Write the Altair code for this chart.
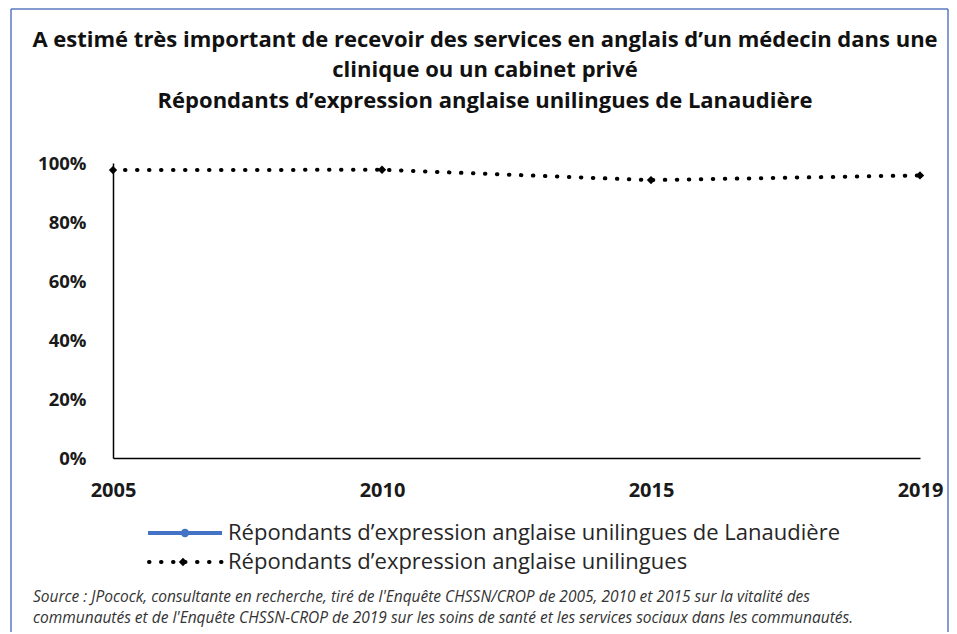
import altair as alt
import pandas as pd

years = ["2005", "2010", "2015", "2019"]
series_lan = "Répondants d’expression anglaise unilingues de Lanaudière"
series_all = "Répondants d’expression anglaise unilingues"
values_all = [0.976, 0.977, 0.942, 0.958]

title_lines = [
    "A estimé très important de recevoir des services en anglais  d’un médecin dans une",
    "clinique  ou un cabinet privé",
    "Répondants  d’expression anglaise  unilingues  de Lanaudière",
]
source_lines = [
    "Source : JPocock, consultante en recherche, tiré de l'Enquête CHSSN/CROP de 2005, 2010 et 2015 sur la vitalité des",
    "communautés et de l'Enquête CHSSN-CROP de 2019 sur les soins de santé et les services sociaux dans les communautés.",
]
y_ticks = [0, 0.2, 0.4, 0.6, 0.8, 1.0]

df = pd.DataFrame({
    "year": years,
    "value": values_all,
    "series": [series_all] * len(years),
})

W, H = 807, 295
FONT = "Open Sans"
BLUE = "#4472C4"

x_enc = alt.X("year:O", scale=alt.Scale(type="point", padding=0),
              axis=alt.Axis(title=None, labelAngle=0, labelFont=FONT, labelFontSize=20,
                            labelFontWeight="bold", labelColor="#1a1a1a", labelPadding=22,
                            ticks=False, domainColor="black", domainWidth=1.5, grid=False))
y_enc = alt.Y("value:Q", scale=alt.Scale(domain=[0, 1], nice=False),
              axis=alt.Axis(title=None, values=y_ticks, format=".0%", labelFont=FONT,
                            labelFontSize=18.5, labelFontWeight="bold", labelColor="#1a1a1a",
                            labelPadding=27, ticks=False, domainColor="black",
                            domainWidth=1.5, grid=False))

line = alt.Chart(df).mark_line(strokeWidth=4, strokeCap="round", color="black",
                               strokeDash=[0.5, 11.5]).encode(x=x_enc, y=y_enc)
pts = alt.Chart(df).mark_point(shape="diamond", filled=True, size=70, opacity=1,
                               color="black").encode(x="year:O", y="value:Q")


def text_layer(txt, x, y, **kw):
    return alt.Chart(pd.DataFrame({"t": [txt]})).mark_text(**kw).encode(
        text="t:N", x=alt.value(x), y=alt.value(y))


titles = [text_layer(t, 372, yy, align="center", baseline="middle", font=FONT,
                     fontSize=22, fontWeight="bold", color="#111")
          for t, yy in zip(title_lines, [-123, -93, -62])]

sources = [text_layer(t, -80, yy, align="left", baseline="middle", font=FONT,
                      fontSize=15.5, fontStyle="italic", color="#333")
           for t, yy in zip(source_lines, [434, 455])]

# legend
leg_names = [series_lan, series_all]
leg_y = [370, 399]
leg_labels = [text_layer(n, 115, yy, align="left", baseline="middle", font=FONT,
                         fontSize=22, color="#262626") for n, yy in zip(leg_names, leg_y)]
legdf = pd.DataFrame({"a": [0]})
leg_line1 = alt.Chart(legdf).mark_rule(color=BLUE, strokeWidth=4).encode(
    x=alt.value(35), x2=alt.value(109), y=alt.value(leg_y[0]))
leg_pt1 = alt.Chart(legdf).mark_point(shape="circle", filled=True, size=70, opacity=1,
                                      color=BLUE).encode(x=alt.value(72), y=alt.value(leg_y[0]))
leg_line2 = alt.Chart(legdf).mark_rule(color="black", strokeWidth=4, strokeCap="round",
                                       strokeDash=[0.5, 11.5]).encode(
    x=alt.value(36), x2=alt.value(109), y=alt.value(leg_y[1]))
leg_pt2 = alt.Chart(legdf).mark_point(shape="diamond", filled=True, size=70, opacity=1,
                                      color="black").encode(x=alt.value(70), y=alt.value(leg_y[1]))

frame_col = "#5a7ac0"
left = alt.Chart(legdf).mark_rule(color=frame_col, strokeWidth=1.5).encode(
    x=alt.value(-102), y=alt.value(-154), y2=alt.value(490))
top = alt.Chart(legdf).mark_rule(color=frame_col, strokeWidth=1.5).encode(
    x=alt.value(-102), x2=alt.value(835), y=alt.value(-154))
right = alt.Chart(legdf).mark_rule(color=frame_col, strokeWidth=1.5).encode(
    x=alt.value(835), y=alt.value(-154), y2=alt.value(490))

chart = alt.layer(left, top, right, line, pts, *titles, *sources, *leg_labels,
                  leg_line1, leg_pt1, leg_line2, leg_pt2).properties(
    width=W, height=H,
    autosize=alt.AutoSizeParams(type="none"),
    padding={"left": 105, "top": 155, "right": 29, "bottom": 174},
).configure_view(stroke=None)

chart.save("out.html", embed_options={"renderer": "svg", "actions": False})
